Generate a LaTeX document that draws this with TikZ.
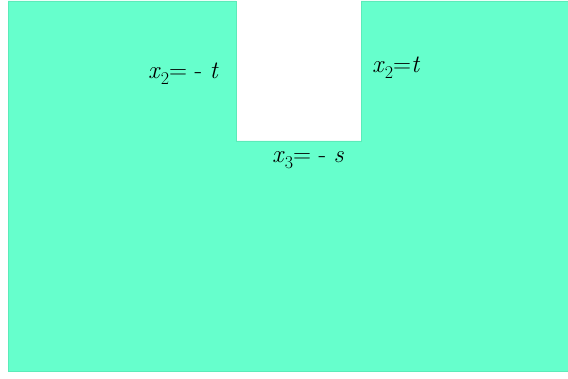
\documentclass[tikz,border=0pt]{standalone}
\usetikzlibrary{positioning}

\definecolor{regiongreen}{RGB}{102,255,204}
\definecolor{regionedge}{RGB}{92,235,185}

\newcommand{\sub}[1]{\raisebox{-0.55ex}{\fontsize{18}{18}\selectfont #1}}

\tikzset{
    region/.style={fill=regiongreen, draw=regionedge, line width=0.8pt},
    bdlabel/.style={anchor=base west, inner sep=0pt, font=\fontsize{25}{28}\selectfont}
}

\begin{document}
\begin{tikzpicture}[x=1pt, y=-1pt]
    \useasboundingbox (0,0) rectangle (568,379);

    % Region with the notch cut out
    \draw[region] (8,1) -- (236,1) -- (236,141) -- (361,141) -- (361,1)
        -- (568,1) -- (568,371) -- (8,371) -- cycle;

    % Boundary labels
    \node[bdlabel] (left) at (148,79) {\textit{x}\sub{2}= - \textit{t}};
    \node[bdlabel] (right) at (372,73) {\textit{x}\sub{2}=\textit{t}};
    \node[bdlabel] (bottom) at (272,163) {\textit{x}\sub{3}= - \textit{s}};
\end{tikzpicture}
\end{document}
